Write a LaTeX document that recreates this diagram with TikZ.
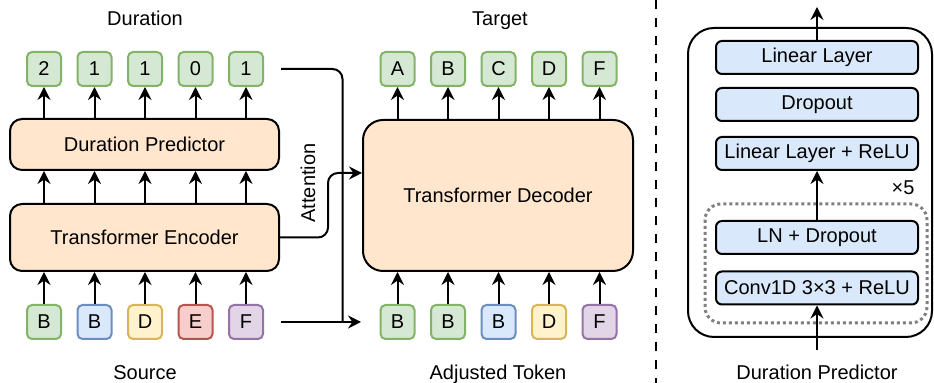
\documentclass[tikz,border=0pt]{standalone}
\usepackage{fontspec}
\setmainfont{Liberation Sans}
\usetikzlibrary{arrows.meta}

\begin{document}
\begin{tikzpicture}[>={Stealth[length=6.5pt,width=6.5pt,inset=2.2pt]},x=0.5pt,y=-0.5pt,
  line width=1pt,
  every node/.style={font=\fontsize{10}{12}\selectfont},
  caption/.style={text height=1.6ex,text depth=0.4ex},
  token/.style={draw,rounded corners=2.5pt,minimum width=17pt,minimum height=17pt,inner sep=0pt},
  tokgreen/.style={token,fill=gfill,draw=gline},
  tokblue/.style={token,fill=bfill,draw=bline},
  tokyellow/.style={token,fill=yfill,draw=yline},
  tokred/.style={token,fill=rfill,draw=rline},
  tokpurple/.style={token,fill=pfill,draw=pline},
  block/.style={draw,fill=peach,rounded corners=6pt,inner sep=0pt,minimum width=134.5pt},
  layer/.style={draw,fill=bfill,rounded corners=3pt,inner sep=0pt,minimum width=101pt,minimum height=16.5pt}]

\definecolor{gfill}{HTML}{D5E8D4}
\definecolor{gline}{HTML}{82B366}
\definecolor{bfill}{HTML}{DAE8FC}
\definecolor{bline}{HTML}{6C8EBF}
\definecolor{yfill}{HTML}{FFF2CC}
\definecolor{yline}{HTML}{D6B656}
\definecolor{rfill}{HTML}{F8CECC}
\definecolor{rline}{HTML}{B85450}
\definecolor{pfill}{HTML}{E1D5E7}
\definecolor{pline}{HTML}{9673A6}
\definecolor{peach}{HTML}{FFE6CC}

\useasboundingbox (0,0) rectangle (934,383);

% left: encoder and duration predictor
\node[caption] (durlab) at (145,19) {Duration};
\node[caption] (srclab) at (145,373) {Source};
\foreach \t [count=\i] in {2,1,1,0,1}
  \node[tokgreen] (d\i) at ({44+50.5*(\i-1)},69) {\t};
\foreach \t/\c [count=\i] in {B/tokgreen,B/tokblue,D/tokyellow,E/tokred,F/tokpurple}
  \node[\c] (s\i) at ({44+50.5*(\i-1)},322) {\t};
\node[block,minimum height=25.5pt] (dp) at (144.5,144.5) {Duration Predictor};
\node[block,minimum height=33.5pt] (enc) at (144.5,237.5) {Transformer Encoder};
\foreach \i in {1,...,5}{
  \draw[->] (dp.north -| d\i) -- (d\i.south);
  \draw[->] (enc.north -| d\i) -- (dp.south -| d\i);
  \draw[->] (s\i.north) -- (enc.south -| s\i);
}

% middle: decoder
\node[caption] (tgtlab) at (500,19) {Target};
\node[caption] (adjlab) at (498,373) {Adjusted Token};
\foreach \t [count=\i] in {A,B,C,D,F}
  \node[tokgreen] (t\i) at ({397.5+50.5*(\i-1)},69) {\t};
\foreach \t/\c [count=\i] in {B/tokgreen,B/tokgreen,B/tokblue,D/tokyellow,F/tokpurple}
  \node[\c] (a\i) at ({397.5+50.5*(\i-1)},322) {\t};
\node[block,rounded corners=10pt,minimum width=135pt,minimum height=75.5pt] (dec) at (498,195.5) {Transformer Decoder};
\foreach \i in {1,...,5}{
  \draw[->] (dec.north -| t\i) -- (t\i.south);
  \draw[->] (a\i.north) -- (dec.south -| a\i);
}

% connectors between the two
\draw[->] ([xshift=8.5pt]s5.east) -- ([xshift=-9.25pt]a1.west);
\draw[rounded corners=5pt] ([xshift=8.5pt]d5.east) -| ([xshift=-18.5pt]a1.west);
\draw[->,rounded corners=5pt] (enc.east) -- ++(48,0) |- ([yshift=11.25pt]dec.west);
\node[rotate=90] (att) at (308,183) {Attention};

% separator
\draw[line width=1.3pt,dash pattern=on 4.5pt off 4.5pt] (656,0) -- (656,383);

% right: duration predictor
\draw[rounded corners=13pt] (688,28) rectangle (932,337);
\draw[gray,line width=1.5pt,dash pattern=on 1.5pt off 1.5pt,rounded corners=8pt] (705,204) rectangle (927,323);
\node[layer] (ll) at (817,57.5) {Linear Layer};
\node[layer] (drop) at (817,104.5) {Dropout};
\node[layer] (llr) at (817,153.5) {Linear Layer + ReLU};
\node[layer] (lnd) at (817,237.5) {LN + Dropout};
\node[layer] (conv) at (817,288) {Conv1D 3×3 + ReLU};
\node (times) at (903,188) {×5};
\node[caption] (dplab) at (817,373) {Duration Predictor};
\coordinate (out) at (817,7);
\coordinate (in) at (817,350);
\draw[->] (ll.north) -- (out);
\draw[->] (lnd.north) -- (llr.south);
\draw[->] (in) -- (conv.south);

\end{tikzpicture}
\end{document}
